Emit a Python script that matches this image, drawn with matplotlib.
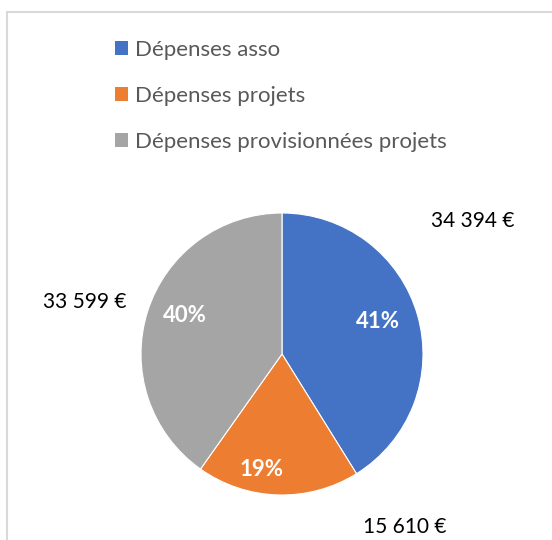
import numpy as np
import matplotlib
matplotlib.use('Agg')
import matplotlib.pyplot as plt
from matplotlib.patches import Patch

# ── Data ──────────────────────────────────────────────────────────────────────
CATEGORIES = ['Dépenses asso', 'Dépenses projets', 'Dépenses provisionnées projets']
VALUES     = [34394, 15610, 33599]
VALUE_TXT  = ['34 394 €', '15 610 €', '33 599 €']
COLORS     = ['#4472C4', '#ED7D31', '#A5A5A5']

# ── Layout (pixel coords, y from top) ────────────────────────────────────────
W, H = 552, 540
CENTER = (282, 354)
RADIUS = 141
VALUE_POS = [(473, 221), (405, 527), (85, 302)]
PCT_POS   = [(378, 321), (262, 469), (185, 316)]

plt.rcParams['font.family'] = ['Lato', 'DejaVu Sans']

fig = plt.figure(figsize=(W / 100, H / 100), dpi=100)
ax = fig.add_axes([0, 0, 1, 1])
ax.set_xlim(0, W)
ax.set_ylim(0, H)
ax.set_aspect('equal')
ax.axis('off')

wedges, _ = ax.pie(VALUES, colors=COLORS, startangle=90, counterclock=False,
                   center=(CENTER[0], H - CENTER[1]), radius=RADIUS,
                   wedgeprops=dict(edgecolor='white', linewidth=0.8))
ax.set_xlim(0, W)
ax.set_ylim(0, H)

total = sum(VALUES)
for v, txt, (vx, vy), (px, py) in zip(VALUES, VALUE_TXT, VALUE_POS, PCT_POS):
    ax.text(px, H - py, f'{v / total * 100:.0f}%', color='white',
            fontsize=16, fontweight='bold', ha='center', va='center')
    ax.text(vx, H - vy, txt, color='black', fontsize=15,
            ha='center', va='center')

# chart frame (cropped at right/bottom)
ax.plot([7, 7, W], [0, H - 12, H - 12], color='#d9d9d9', lw=1.5,
        solid_joinstyle='miter')

handles = [Patch(facecolor=c, edgecolor='none') for c in COLORS]
fig.legend(handles, CATEGORIES, loc='upper left',
           bbox_to_anchor=(115 / W, 1 - 40 / H), frameon=False,
           fontsize=16, labelcolor='#595959', handlelength=0.6,
           handleheight=0.6, handletextpad=0.3, labelspacing=1.16,
           borderpad=0, borderaxespad=0)

fig.savefig('out.png', dpi=100)
